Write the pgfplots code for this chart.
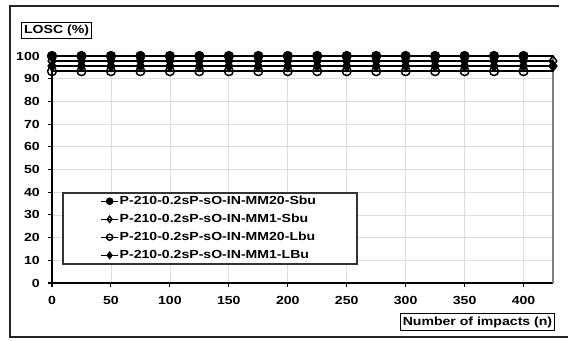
\documentclass[border=0pt]{standalone}
\usepackage{pgfplots}
\pgfplotsset{compat=1.18}
\usepackage{fontspec}
\setmainfont{Liberation Sans}[FakeStretch=1.2]
\begin{document}
\begin{tikzpicture}[font=\fontsize{8.8pt}{10pt}\selectfont\bfseries]
\useasboundingbox (0,0) rectangle (426pt,255pt);
\draw[line width=1.5pt, black!85] (426pt,2.25pt) -- (7.5pt,2.25pt) -- (7.5pt,250.5pt) -- (419.25pt,250.5pt);
\begin{axis}[
 at={(39pt,42.75pt)}, anchor=south west, scale only axis,
 width=375.75pt, height=170.25pt,
 xmin=0, xmax=425, ymin=0, ymax=100,
 axis x line*=bottom, axis y line*=left,
 axis line style={line width=1.1pt, black},
 xtick={0,50,...,400}, ytick={0,10,...,100},
 grid=major, major grid style={line width=0.5pt, black!13},
 tick align=outside, major tick length=3pt, tick style={black, line width=0.8pt},
 /pgf/number format/assume math mode=true,
 ticklabel style={font=\fontsize{8.8pt}{10pt}\selectfont\bfseries},
 xticklabel style={inner sep=0pt, yshift=-7pt},
 yticklabel style={inner sep=0pt, xshift=-6pt},
 clip=false,
 legend cell align=left,
 legend image code/.code={\draw[#1, mark repeat=2, mark phase=2, mark indices={2}, mark size=2.3pt] plot coordinates {(0pt,0pt) (6.5pt,0pt) (13pt,0pt)};},
 legend style={at={(0.0958,0.3877)}, anchor=north west, draw=none, fill=none, inner sep=0pt,
   row sep=4.5pt, column sep=0.5pt, nodes={inner sep=0pt, text height=7pt, text depth=2pt},
   font=\fontsize{8.8pt}{10pt}\selectfont\bfseries},
]
\draw[gray, line width=1pt] (rel axis cs:1,0) -- (rel axis cs:1,1);
\addplot[black, line width=1.1pt, mark=*, mark size=3.3pt, mark indices={1,...,17}] coordinates {
(0,100) (25,100) (50,100) (75,100) (100,100) (125,100) (150,100) (175,100) (200,100)
(225,100) (250,100) (275,100) (300,100) (325,100) (350,100) (375,100) (400,100) (425,100)};
\addlegendentry{P-210-0.2sP-sO-IN-MM20-Sbu}
\addplot[black, line width=1.1pt, mark=diamond, mark size=3.8pt, mark options={fill=white, solid}] coordinates {
(0,97.8) (25,97.8) (50,97.8) (75,97.8) (100,97.8) (125,97.8) (150,97.8) (175,97.8) (200,97.8)
(225,97.8) (250,97.8) (275,97.8) (300,97.8) (325,97.8) (350,97.8) (375,97.8) (400,97.8) (425,97.8)};
\addlegendentry{P-210-0.2sP-sO-IN-MM1-Sbu}
\addplot[black, line width=1.1pt, mark=o, mark size=3.3pt, mark options={fill=white}, mark indices={1,...,17}] coordinates {
(0,93.3) (25,93.3) (50,93.3) (75,93.3) (100,93.3) (125,93.3) (150,93.3) (175,93.3) (200,93.3)
(225,93.3) (250,93.3) (275,93.3) (300,93.3) (325,93.3) (350,93.3) (375,93.3) (400,93.3) (425,93.3)};
\addlegendentry{P-210-0.2sP-sO-IN-MM20-Lbu}
\addplot[black, line width=1.1pt, mark=diamond*, mark size=3.8pt] coordinates {
(0,95.6) (25,95.6) (50,95.6) (75,95.6) (100,95.6) (125,95.6) (150,95.6) (175,95.6) (200,95.6)
(225,95.6) (250,95.6) (275,95.6) (300,95.6) (325,95.6) (350,95.6) (375,95.6) (400,95.6) (425,95.6)};
\addlegendentry{P-210-0.2sP-sO-IN-MM1-LBu}
\filldraw[fill=white, draw=black!80, line width=0.8pt] (rel axis cs:0.022,0.3965) rectangle (rel axis cs:0.6088,0.0837);
\end{axis}
\node[draw, line width=0.8pt, inner sep=2pt] at (42.4pt,232pt) {LOSC (\%)};
\node[draw, line width=0.8pt, inner sep=2pt] at (358.1pt,13.5pt) {Number of impacts (n)};
\end{tikzpicture}
\end{document}
